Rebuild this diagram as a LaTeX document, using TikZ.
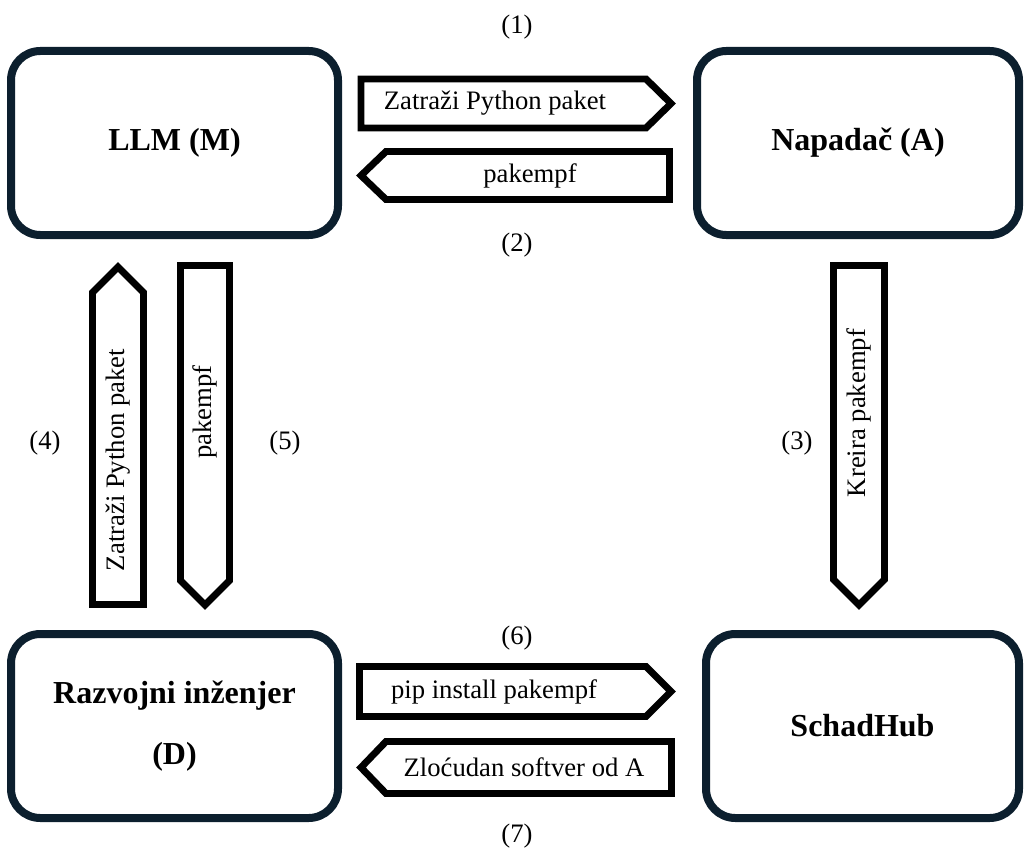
\documentclass[tikz,border=0pt]{standalone}
\usepackage{fontspec}
\setmainfont{Liberation Serif}
\definecolor{boxnavy}{RGB}{12,31,46}

\begin{document}
\begin{tikzpicture}[x=0.75pt,y=-0.75pt,
  party/.style={draw=boxnavy, line width=6pt, rounded corners=22pt, fill=white,
    minimum height=138pt, align=center, font=\fontsize{24}{46}\selectfont\bfseries},
  flow/.style={draw=black, line width=5.2pt, fill=white},
  msg/.style={font=\fontsize{20}{24}\selectfont, inner sep=0pt},
  stepnum/.style={font=\fontsize{20}{24}\selectfont, inner sep=0pt}]

\useasboundingbox (0,0) rectangle (1024,849);

% actors
\node[party, minimum width=245.25pt] (llm) at (174.5,143) {LLM (M)};
\node[party, minimum width=241.5pt] (att) at (858,143) {Napadač (A)};
\node[party, minimum width=245.25pt] (dev) at (174.5,726) {Razvojni inženjer\\(D)};
\node[party, minimum width=234.75pt] (hub) at (862.5,726) {SchadHub};

% (1) and (2)
\draw[flow] (361,79) -- (646,79) -- (671,103.5) -- (646,128) -- (361,128) -- cycle;
\node[msg] (ask) at (495,103.5) {Zatraži Python paket};
\draw[flow] (669.5,151.5) -- (386,151.5) -- (361,175.5) -- (386,199.5) -- (669.5,199.5) -- cycle;
\node[msg] (name) at (530,175.5) {pakempf};

% (3)
\draw[flow] (833.5,265.5) -- (884.5,265.5) -- (884.5,579.5) -- (859,605) -- (833.5,579.5) -- cycle;
\node[msg, rotate=90] (make) at (859,413) {Kreira pakempf};

% (4) and (5)
\draw[flow] (92.5,604.5) -- (92.5,292.5) -- (118,267) -- (143.5,292.5) -- (143.5,604.5) -- cycle;
\node[msg, rotate=90] (devask) at (118,460) {Zatraži Python paket};
\draw[flow] (180.5,265.5) -- (229.5,265.5) -- (229.5,580.5) -- (205,605) -- (180.5,580.5) -- cycle;
\node[msg, rotate=90] (devname) at (205,412) {pakempf};

% (6) and (7)
\draw[flow] (359.5,666.5) -- (646,666.5) -- (671,691.5) -- (646,716.5) -- (359.5,716.5) -- cycle;
\node[msg] (pip) at (494,691.5) {pip install pakempf};
\draw[flow] (671.5,741.5) -- (386,741.5) -- (361,767.5) -- (386,793.5) -- (671.5,793.5) -- cycle;
\node[msg] (mal) at (524,767.5) {Zloćudan softver od A};

\node[stepnum] (n1) at (517,27) {(1)};
\node[stepnum] (n2) at (517,245) {(2)};
\node[stepnum] (n3) at (797,443) {(3)};
\node[stepnum] (n4) at (45,443) {(4)};
\node[stepnum] (n5) at (285,443) {(5)};
\node[stepnum] (n6) at (517,638) {(6)};
\node[stepnum] (n7) at (517,836) {(7)};

\end{tikzpicture}
\end{document}
